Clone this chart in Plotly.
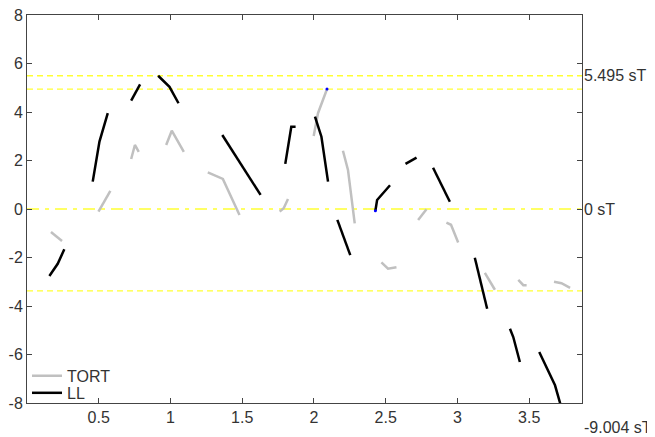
import plotly.graph_objects as go

# TORT (gray) segments, gaps marked by None
tort_x = [0.167, 0.244, None,
          0.498, 0.581, None,
          0.726, 0.752, 0.779, None,
          0.970, 1.009, 1.093, None,
          1.260, 1.365, 1.481, None,
          1.761, 1.789, 1.819, None,
          1.998, 2.028, 2.091, None,
          2.202, 2.237, 2.284, None,
          2.470, 2.516, 2.575, None,
          2.726, 2.784, None,
          2.923, 2.955, 3.005, None,
          3.191, 3.261, None,
          3.424, 3.459, 3.482, None,
          3.673, 3.725, 3.785]
tort_y = [-0.95, -1.32, None,
          -0.11, 0.75, None,
          2.06, 2.64, 2.36, None,
          2.64, 3.23, 2.36, None,
          1.51, 1.24, -0.25, None,
          -0.11, 0.03, 0.41, None,
          3.01, 3.95, 4.95, None,
          2.40, 1.61, -0.59, None,
          -2.20, -2.46, -2.40, None,
          -0.45, -0.01, None,
          -0.56, -0.65, -1.38, None,
          -2.63, -3.33, None,
          -2.92, -3.14, -3.14, None,
          -3.00, -3.06, -3.25]

# LL (black) segments
ll_x = [0.156, 0.214, 0.260, None,
        0.458, 0.505, 0.563, None,
        0.726, 0.788, None,
        0.914, 0.993, 1.056, None,
        1.361, 1.628, None,
        1.800, 1.842, 1.872, None,
        2.007, 2.052, 2.098, None,
        2.163, 2.253, None,
        2.428, 2.440, 2.530, None,
        2.638, 2.715, None,
        2.830, 2.947, None,
        3.121, 3.207, None,
        3.366, 3.389, 3.435, None,
        3.570, 3.680, 3.720]
ll_y = [-2.76, -2.26, -1.66, None,
        1.13, 2.78, 3.95, None,
        4.47, 5.14, None,
        5.495, 5.04, 4.36, None,
        3.05, 0.58, None,
        1.86, 3.39, 3.39, None,
        3.81, 2.98, 1.13, None,
        -0.45, -1.90, None,
        -0.07, 0.37, 0.98, None,
        1.86, 2.12, None,
        1.70, 0.30, None,
        -2.01, -4.11, None,
        -4.94, -5.28, -6.31, None,
        -5.90, -7.27, -8.10]

# reference levels (dashed yellow lines)
dash_levels = [5.495, 4.94, -3.38]
zero_level = [0.0]

# right-side value labels
label_vals = [5.495, 0.0, -9.004]
label_texts = ["5.495 sT", "0 sT", "-9.004 sT"]

# small blue markers
marker_x = [2.091, 2.428]
marker_y = [4.95, -0.07]

x_ticks = [0.5, 1, 1.5, 2, 2.5, 3, 3.5]
x_ticklabels = ["0.5", "1", "1.5", "2", "2.5", "3", "3.5"]
y_ticks = [-8, -6, -4, -2, 0, 2, 4, 6, 8]
y_ticklabels = ["-8", "-6", "-4", "-2", "0", "2", "4", "6", "8"]
x_range = [0, 3.868]
y_range = [-8, 8]

FONT = "Liberation Sans, Arial, sans-serif"
TXT = "#333333"
FS = 16

fig = go.Figure()
fig.add_trace(go.Scatter(x=tort_x, y=tort_y, mode="lines", name="TORT",
                         line=dict(color="#c0c0c0", width=2.5), connectgaps=False,
                         legend="legend"))
fig.add_trace(go.Scatter(x=ll_x, y=ll_y, mode="lines", name="LL",
                         line=dict(color="#000000", width=2.5), connectgaps=False,
                         legend="legend2"))
fig.add_trace(go.Scatter(x=marker_x, y=marker_y, mode="markers", showlegend=False,
                         marker=dict(color="#0000ff", size=3)))

for lv in dash_levels:
    fig.add_shape(type="line", xref="paper", x0=0, x1=1, yref="y", y0=lv, y1=lv,
                  line=dict(color="#ffff33", width=1.3, dash="6px,4px"), layer="below")
for lv in zero_level:
    fig.add_shape(type="line", xref="paper", x0=0, x1=1, yref="y", y0=lv, y1=lv,
                  line=dict(color="#ffff33", width=1.5, dash="12px,6px,4px,6px"), layer="below")

for v, t in zip(label_vals, label_texts):
    yp = (v - y_range[0]) / (y_range[1] - y_range[0])
    fig.add_annotation(x=1, xref="paper", y=yp, yref="paper", text=t, showarrow=False,
                       xanchor="left", yanchor="middle", xshift=0,
                       font=dict(family=FONT, size=FS, color=TXT))

leg_common = dict(x=0, xanchor="left", yanchor="middle", bgcolor="rgba(0,0,0,0)",
                  itemwidth=30, font=dict(family=FONT, size=FS, color=TXT))
fig.update_layout(
    width=647, height=429,
    margin=dict(l=19, r=73, t=7, b=34, autoexpand=False),
    paper_bgcolor="white", plot_bgcolor="white",
    font=dict(family=FONT, size=FS, color=TXT),
    legend=dict(y=0.07, **leg_common),
    legend2=dict(y=0.026, **leg_common),
    showlegend=True,
)
fig.update_xaxes(range=x_range, tickvals=x_ticks, ticktext=x_ticklabels,
                 ticks="inside", ticklen=5, tickcolor="#444", showgrid=False,
                 zeroline=False, showline=True, linecolor="#444", linewidth=1,
                 mirror="allticks", automargin=False, ticklabeloverflow="allow")
fig.update_yaxes(range=y_range, tickvals=y_ticks, ticktext=y_ticklabels,
                 ticks="inside", ticklen=5, tickcolor="#444", showgrid=False,
                 zeroline=False, showline=True, linecolor="#444", linewidth=1,
                 mirror="allticks", automargin=False, ticklabeloverflow="allow")

fig.write_html("out.html")
